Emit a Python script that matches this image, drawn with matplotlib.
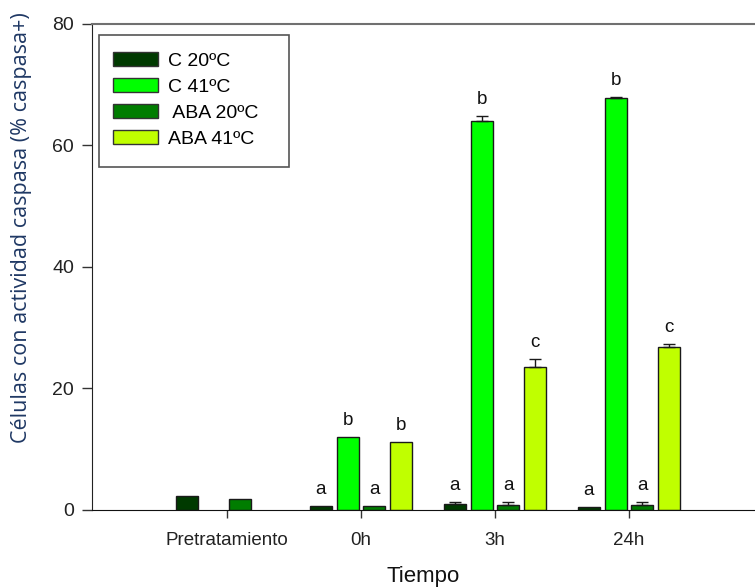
import numpy as np
import matplotlib
matplotlib.use("Agg")
import matplotlib.pyplot as plt
from matplotlib.patches import Patch, Rectangle

plt.rcParams['font.family'] = ['Liberation Sans', 'DejaVu Sans']

# Data: % of cells with caspase activity
grupos = ['Pretratamiento', '0h', '3h', '24h']
series = ['C 20ºC', 'C 41ºC', ' ABA 20ºC', 'ABA 41ºC']
colores = ['#003a00', '#00ff00', '#007d00', '#c0ff00']

c20 = [2.35, 0.7, 0.95, 0.5]
c41 = [np.nan, 12.0, 64.0, 67.8]
aba20 = [1.8, 0.65, 0.9, 0.75]
aba41 = [np.nan, 11.2, 23.5, 26.8]

err_c20 = [0, 0, 0.35, 0]
err_c41 = [0, 0, 0.9, 0.2]
err_aba20 = [0, 0, 0.35, 0.6]
err_aba41 = [0, 0, 1.4, 0.5]

letras_c20 = ['', 'a', 'a', 'a']
letras_c41 = ['', 'b', 'b', 'b']
letras_aba20 = ['', 'a', 'a', 'a']
letras_aba41 = ['', 'b', 'c', 'c']

valores = [c20, c41, aba20, aba41]
errores = [err_c20, err_c41, err_aba20, err_aba41]
letras = [letras_c20, letras_c41, letras_aba20, letras_aba41]
desplaz = [-0.3, -0.1, 0.1, 0.3]
ancho = 0.165

fig = plt.figure(figsize=(7.55, 5.88), dpi=100)
ax = fig.add_axes([0.1219, 0.1327, 0.8781, 0.8265])

x = np.arange(1, len(grupos) + 1)
for vals, errs, lets, dx, col in zip(valores, errores, letras, desplaz, colores):
    vals = np.array(vals, dtype=float)
    errs = np.array(errs, dtype=float)
    ax.bar(x + dx, vals, width=ancho, color=col, edgecolor='#1a1a1a',
           linewidth=1.0, zorder=2)
    mask = errs > 0
    ax.errorbar((x + dx)[mask], vals[mask],
                yerr=[np.zeros(mask.sum()), errs[mask]],
                fmt='none', ecolor='#1a1a1a', elinewidth=1.0,
                capsize=4.5, capthick=1.0, zorder=3)
    for xi, v, e, t in zip(x + dx, vals, errs, lets):
        if t:
            ax.text(xi, v + e + 1.3, t, ha='center', va='bottom',
                    fontsize=13.5, color='#111111')

ax.set_xlim(-0.0075, 4.94)
ax.set_ylim(0, 80)
ax.set_xticks(x)
ax.set_xticklabels(grupos, fontsize=13.5, color='#222222')
ax.set_yticks([0, 20, 40, 60, 80])
ax.set_yticklabels(['0', '20', '40', '60', '80'], fontsize=14, color='#222222')
ax.tick_params(axis='both', direction='out', length=7, width=1.0,
               color='#333333', pad=6)
ax.tick_params(axis='x', length=6, pad=10)

ax.spines['right'].set_visible(False)
ax.spines['top'].set_color('#707070')
ax.spines['top'].set_linewidth(1.5)
ax.spines['left'].set_color('#222222')
ax.spines['bottom'].set_color('#111111')

ax.set_ylabel('Células con actividad caspasa (% caspasa+)', fontsize=15.5,
              family=['Open Sans', 'DejaVu Sans'], color='#1f3864')
ax.yaxis.set_label_coords(-0.091, 0.582)
ax.set_xlabel('Tiempo', fontsize=16, color='#111111', labelpad=12)

# legend box drawn separately so it can be wider than its entries
ax.add_patch(Rectangle((0.0106, 0.7058), 0.2865, 0.2716, transform=ax.transAxes,
                       facecolor='white', edgecolor='#555555', linewidth=1.2,
                       zorder=4))
handles = [Patch(facecolor=c, edgecolor='#333333', linewidth=1.0) for c in colores]
leg = ax.legend(handles, series, loc='upper left', bbox_to_anchor=(0.0317, 0.942),
                fontsize=14, frameon=False, handlelength=2.3,
                handleheight=0.72, borderpad=0.0, labelspacing=0.42,
                handletextpad=0.55, borderaxespad=0.0)
leg.set_zorder(5)

fig.savefig('out.png', dpi=100)
